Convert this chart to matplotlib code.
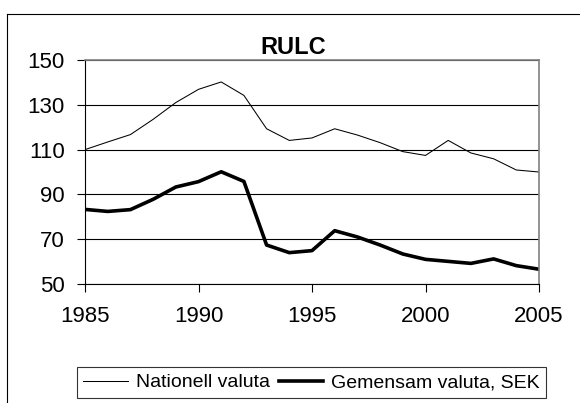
import matplotlib.pyplot as plt
from matplotlib.lines import Line2D

plt.rcParams['font.family'] = ['Liberation Sans', 'DejaVu Sans']

years = list(range(1985, 2006))
nationell = [110.0, 113.4, 116.7, 123.5, 131.0, 136.9, 140.2, 134.2, 119.3, 114.1,
             115.2, 119.3, 116.5, 113.1, 109.1, 107.4, 114.1, 108.5, 105.9, 100.9, 100.0]
gemensam = [83.3, 82.4, 83.2, 87.8, 93.3, 95.7, 100.1, 95.8, 67.4, 64.0,
            64.9, 73.8, 71.0, 67.4, 63.4, 61.0, 60.1, 59.2, 61.2, 58.2, 56.6]

W, H = 580, 403
fig = plt.figure(figsize=(W / 100, H / 100), dpi=100)
ax = fig.add_axes([85 / W, 1 - 284 / H, 454 / W, 224 / H])

ax.plot(years, nationell, color='black', lw=0.75, label='Nationell valuta')
ax.plot(years, gemensam, color='black', lw=2.6, label='Gemensam valuta, SEK')

ax.set_xlim(1985, 2005)
ax.set_ylim(50, 150)
ax.set_xticks(range(1985, 2006, 5))
ax.set_yticks(range(50, 151, 20))
ax.yaxis.grid(True, color='black', lw=0.8)
ax.set_axisbelow(True)
ax.tick_params(axis='both', labelsize=16, length=6, width=0.8, direction='out')
ax.tick_params(axis='x', pad=10)
ax.tick_params(axis='y', pad=8.5)

for side in ('top', 'right'):
    ax.spines[side].set_color('#808080')
    ax.spines[side].set_linewidth(1.2)
for side in ('left', 'bottom'):
    ax.spines[side].set_linewidth(0.8)

fig.text(293.5 / W, 1 - 47.5 / H, 'RULC', fontsize=17, fontweight='bold',
         ha='center', va='center')

leg = fig.legend(loc='center', bbox_to_anchor=(311.5 / W, 1 - 382.5 / H), ncol=2,
                 fontsize=14, frameon=True, fancybox=False, handlelength=2.3,
                 handletextpad=0.4, columnspacing=0.45, borderpad=0.35)
leg.get_frame().set_edgecolor('black')
leg.get_frame().set_linewidth(0.8)

# chart area border: only the left and top edges fall inside the image
fig.add_artist(Line2D([6.5 / W, 6.5 / W], [0, 1 - 13.5 / H], color='black', lw=0.8,
                      transform=fig.transFigure))
fig.add_artist(Line2D([6.5 / W, 1], [1 - 13.5 / H, 1 - 13.5 / H], color='black', lw=0.8,
                      transform=fig.transFigure))

fig.savefig('out.png', dpi=100)
